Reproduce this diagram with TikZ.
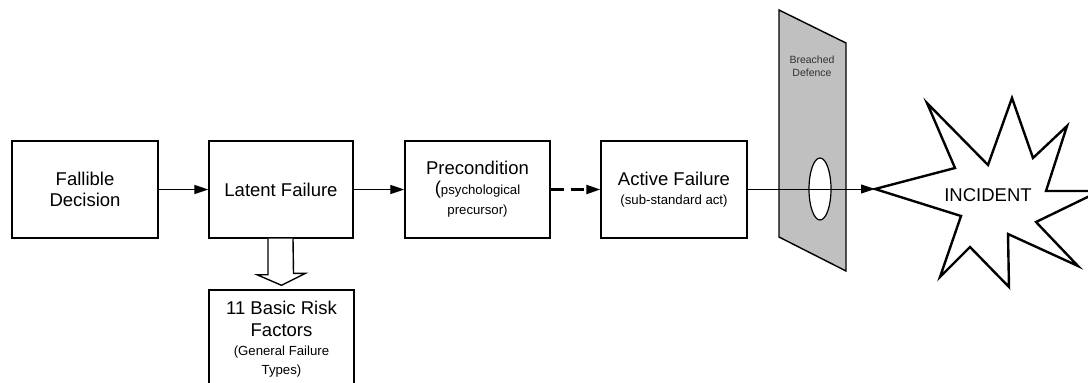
\documentclass[tikz,border=0pt]{standalone}
\usepackage{fontspec}
\setmainfont{Liberation Sans}
\usetikzlibrary{arrows.meta,shapes.geometric}
\definecolor{defgrey}{RGB}{192,192,192}
\definecolor{labgrey}{RGB}{50,50,50}
\newcommand{\bigtxt}{\fontsize{18.5}{21.5}\selectfont}
\newcommand{\smalltxt}{\fontsize{13.2}{15.5}\selectfont}
\newcommand{\tinytxt}{\fontsize{10.5}{13}\selectfont}

\begin{document}
\begin{tikzpicture}[x=1pt,y=-1pt,
  every node/.style={font=\bigtxt, align=center, inner sep=0pt},
  box/.style={draw, line width=1.4pt, minimum height=97pt},
  arr/.style={line width=1.2pt, -{Triangle[length=14pt,width=9pt]}},
  hollow/.style={draw, fill=white, line width=1.4pt, line join=miter},
  burst/.style={draw, fill=white, line width=2.4pt, line join=miter}]
  \useasboundingbox (0,0) rectangle (1088,383);
  \clip (0,0) rectangle (1088,383);
  % chain of boxes
  \node[box, minimum width=146pt] (fallible) at (85,189.5) {Fallible\\Decision};
  \node[box, minimum width=144pt] (latent) at (281,189.5) {Latent Failure};
  \node[box, minimum width=145pt] (precond) at (477.5,189.5)
    {Precondition\\[-2pt]({\smalltxt psychological}\\[-1pt]{\smalltxt precursor)}};
  \node[box, minimum width=146pt] (active) at (674,189.5)
    {Active Failure\\[-3pt]{\smalltxt (sub-standard act)}};
  \node[box, minimum width=145pt, minimum height=98pt] (risk) at (281.5,339)
    {11 Basic Risk\\Factors\\[-2pt]{\smalltxt (General Failure}\\[-3pt]{\smalltxt Types)}};
  \draw[arr] (fallible) -- (latent);
  \draw[arr] (latent) -- (precond);
  \draw[arr, line width=2.2pt, dash pattern=on 13pt off 7pt] (precond) -- (active);
  % hollow arrow down to the risk factors
  \draw[hollow] ([xshift=-13pt]latent.south) -- ++(0,36) -- ++(-11,0)
    -- ([yshift=4pt]risk.north) -- ++(24,-12) -- ++(-12,0) -- ([xshift=12pt]latent.south);
  % defence
  \draw[fill=defgrey, line width=1.4pt] (779,10) -- (846,43) -- (846,271) -- (779,237) -- cycle;
  \node[font=\tinytxt, text=labgrey] (deflabel) at (812,66) {Breached\\Defence};
  \node[draw, ellipse, fill=white, line width=1.2pt, minimum width=22pt, minimum height=62pt] (hole) at (820,189) {};
  % incident
  \coordinate (tip) at (875,189);
  \draw[burst] (tip) -- (955,168) -- (927,103) -- (988,165) -- (1012,98) -- (1033,158)
    -- (1067,126) -- (1046,191) -- (1100,191) -- (1036,222) -- (1078,266) -- (1008,234)
    -- (1009,287) -- (970,247) -- (940,277) -- (961,216) -- cycle;
  \node (incident) at (988,195) {INCIDENT};
  \draw[arr, line width=1pt] (active.east |- tip) -- (tip);
\end{tikzpicture}
\end{document}
